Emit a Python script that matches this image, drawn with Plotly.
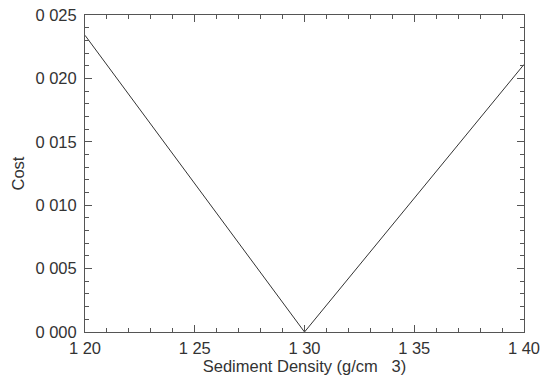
import plotly.graph_objects as go

# Cost as a function of sediment density
density = [1.20, 1.30, 1.40]
cost = [0.0234, 0.0, 0.0211]

x_ticks = [1.20, 1.25, 1.30, 1.35, 1.40]
x_labels = ["1 20", "1 25", "1 30", "1 35", "1 40"]
y_ticks = [0.000, 0.005, 0.010, 0.015, 0.020, 0.025]
y_labels = ["0 000", "0 005", "0 010", "0 015", "0 020", "0 025"]

font = dict(family="Liberation Sans, Arial, sans-serif", size=16.5, color="#333333")
axis_color = "#555555"

fig = go.Figure(
    go.Scatter(x=density, y=cost, mode="lines",
               line=dict(color="#333333", width=1), showlegend=False)
)

common = dict(
    showgrid=False, zeroline=False, showline=True, linecolor=axis_color, linewidth=1,
    mirror="allticks", ticks="inside", ticklen=7, tickwidth=1, tickcolor=axis_color,
    tickfont=font, automargin=False,
)

fig.update_xaxes(
    range=[1.20, 1.40], tickmode="array", tickvals=x_ticks, ticktext=x_labels,
    minor=dict(ticks="inside", ticklen=4, tickcolor=axis_color, dtick=0.01, tick0=1.20),
    title=dict(text="Sediment Density (g/cm   3)", font=font, standoff=3),
    ticklabelstandoff=1,
    **common,
)
fig.update_yaxes(
    range=[0.0, 0.025], tickmode="array", tickvals=y_ticks, ticktext=y_labels,
    minor=dict(ticks="inside", ticklen=4, tickcolor=axis_color, dtick=0.001, tick0=0),
    title=dict(text="Cost", font=font, standoff=6),
    ticklabelstandoff=4,
    **common,
)

fig.update_layout(
    width=548, height=377,
    margin=dict(l=85, r=24, t=15, b=45),
    plot_bgcolor="white", paper_bgcolor="white",
    font=font,
)

fig.write_html("out.html")
